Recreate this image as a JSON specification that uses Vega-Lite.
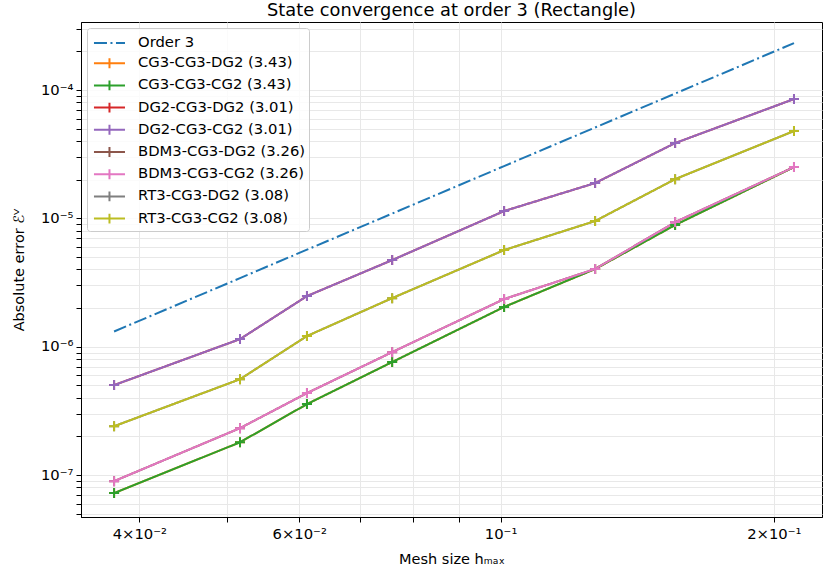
{
  "$schema": "https://vega.github.io/schema/vega-lite/v6.json",
  "width": 741,
  "height": 495,
  "autosize": "none",
  "padding": {"left": 81, "top": 22, "right": 2, "bottom": 60},
  "title": {"text": "State convergence at order 3 (Rectangle)", "offset": 2, "fontSize": 17.8, "fontWeight": "normal", "color": "#000", "font": "DejaVu Sans"},
  "data": {"values": [
    {"s": "Order 3", "h": 0.03752, "e": 1.314e-6},
    {"s": "Order 3", "h": 0.05164, "e": 3.425e-6},
    {"s": "Order 3", "h": 0.06120, "e": 5.701e-6},
    {"s": "Order 3", "h": 0.07596, "e": 1.090e-5},
    {"s": "Order 3", "h": 0.1009, "e": 2.555e-5},
    {"s": "Order 3", "h": 0.1271, "e": 5.106e-5},
    {"s": "Order 3", "h": 0.1557, "e": 9.388e-5},
    {"s": "Order 3", "h": 0.2105, "e": 2.320e-4},
    {"s": "CG3-CG3-DG2 (3.43)", "h": 0.03752, "e": 7.23e-8},
    {"s": "CG3-CG3-DG2 (3.43)", "h": 0.05164, "e": 1.80e-7},
    {"s": "CG3-CG3-DG2 (3.43)", "h": 0.06120, "e": 3.57e-7},
    {"s": "CG3-CG3-DG2 (3.43)", "h": 0.07596, "e": 7.59e-7},
    {"s": "CG3-CG3-DG2 (3.43)", "h": 0.1009, "e": 2.04e-6},
    {"s": "CG3-CG3-DG2 (3.43)", "h": 0.1271, "e": 4.03e-6},
    {"s": "CG3-CG3-DG2 (3.43)", "h": 0.1557, "e": 8.87e-6},
    {"s": "CG3-CG3-DG2 (3.43)", "h": 0.2105, "e": 2.51e-5},
    {"s": "CG3-CG3-CG2 (3.43)", "h": 0.03752, "e": 7.23e-8},
    {"s": "CG3-CG3-CG2 (3.43)", "h": 0.05164, "e": 1.80e-7},
    {"s": "CG3-CG3-CG2 (3.43)", "h": 0.06120, "e": 3.57e-7},
    {"s": "CG3-CG3-CG2 (3.43)", "h": 0.07596, "e": 7.59e-7},
    {"s": "CG3-CG3-CG2 (3.43)", "h": 0.1009, "e": 2.04e-6},
    {"s": "CG3-CG3-CG2 (3.43)", "h": 0.1271, "e": 4.03e-6},
    {"s": "CG3-CG3-CG2 (3.43)", "h": 0.1557, "e": 8.87e-6},
    {"s": "CG3-CG3-CG2 (3.43)", "h": 0.2105, "e": 2.51e-5},
    {"s": "DG2-CG3-DG2 (3.01)", "h": 0.03752, "e": 5.02e-7},
    {"s": "DG2-CG3-DG2 (3.01)", "h": 0.05164, "e": 1.146e-6},
    {"s": "DG2-CG3-DG2 (3.01)", "h": 0.06120, "e": 2.48e-6},
    {"s": "DG2-CG3-DG2 (3.01)", "h": 0.07596, "e": 4.73e-6},
    {"s": "DG2-CG3-DG2 (3.01)", "h": 0.1009, "e": 1.140e-5},
    {"s": "DG2-CG3-DG2 (3.01)", "h": 0.1271, "e": 1.884e-5},
    {"s": "DG2-CG3-DG2 (3.01)", "h": 0.1557, "e": 3.86e-5},
    {"s": "DG2-CG3-DG2 (3.01)", "h": 0.2105, "e": 8.51e-5},
    {"s": "DG2-CG3-CG2 (3.01)", "h": 0.03752, "e": 5.02e-7},
    {"s": "DG2-CG3-CG2 (3.01)", "h": 0.05164, "e": 1.146e-6},
    {"s": "DG2-CG3-CG2 (3.01)", "h": 0.06120, "e": 2.48e-6},
    {"s": "DG2-CG3-CG2 (3.01)", "h": 0.07596, "e": 4.73e-6},
    {"s": "DG2-CG3-CG2 (3.01)", "h": 0.1009, "e": 1.140e-5},
    {"s": "DG2-CG3-CG2 (3.01)", "h": 0.1271, "e": 1.884e-5},
    {"s": "DG2-CG3-CG2 (3.01)", "h": 0.1557, "e": 3.86e-5},
    {"s": "DG2-CG3-CG2 (3.01)", "h": 0.2105, "e": 8.51e-5},
    {"s": "BDM3-CG3-DG2 (3.26)", "h": 0.03752, "e": 8.96e-8},
    {"s": "BDM3-CG3-DG2 (3.26)", "h": 0.05164, "e": 2.32e-7},
    {"s": "BDM3-CG3-DG2 (3.26)", "h": 0.06120, "e": 4.35e-7},
    {"s": "BDM3-CG3-DG2 (3.26)", "h": 0.07596, "e": 9.07e-7},
    {"s": "BDM3-CG3-DG2 (3.26)", "h": 0.1009, "e": 2.35e-6},
    {"s": "BDM3-CG3-DG2 (3.26)", "h": 0.1271, "e": 4.03e-6},
    {"s": "BDM3-CG3-DG2 (3.26)", "h": 0.1557, "e": 9.35e-6},
    {"s": "BDM3-CG3-DG2 (3.26)", "h": 0.2105, "e": 2.51e-5},
    {"s": "BDM3-CG3-CG2 (3.26)", "h": 0.03752, "e": 8.96e-8},
    {"s": "BDM3-CG3-CG2 (3.26)", "h": 0.05164, "e": 2.32e-7},
    {"s": "BDM3-CG3-CG2 (3.26)", "h": 0.06120, "e": 4.35e-7},
    {"s": "BDM3-CG3-CG2 (3.26)", "h": 0.07596, "e": 9.07e-7},
    {"s": "BDM3-CG3-CG2 (3.26)", "h": 0.1009, "e": 2.35e-6},
    {"s": "BDM3-CG3-CG2 (3.26)", "h": 0.1271, "e": 4.03e-6},
    {"s": "BDM3-CG3-CG2 (3.26)", "h": 0.1557, "e": 9.35e-6},
    {"s": "BDM3-CG3-CG2 (3.26)", "h": 0.2105, "e": 2.51e-5},
    {"s": "RT3-CG3-DG2 (3.08)", "h": 0.03752, "e": 2.40e-7},
    {"s": "RT3-CG3-DG2 (3.08)", "h": 0.05164, "e": 5.58e-7},
    {"s": "RT3-CG3-DG2 (3.08)", "h": 0.06120, "e": 1.211e-6},
    {"s": "RT3-CG3-DG2 (3.08)", "h": 0.07596, "e": 2.39e-6},
    {"s": "RT3-CG3-DG2 (3.08)", "h": 0.1009, "e": 5.66e-6},
    {"s": "RT3-CG3-DG2 (3.08)", "h": 0.1271, "e": 9.53e-6},
    {"s": "RT3-CG3-DG2 (3.08)", "h": 0.1557, "e": 2.02e-5},
    {"s": "RT3-CG3-DG2 (3.08)", "h": 0.2105, "e": 4.79e-5},
    {"s": "RT3-CG3-CG2 (3.08)", "h": 0.03752, "e": 2.40e-7},
    {"s": "RT3-CG3-CG2 (3.08)", "h": 0.05164, "e": 5.58e-7},
    {"s": "RT3-CG3-CG2 (3.08)", "h": 0.06120, "e": 1.211e-6},
    {"s": "RT3-CG3-CG2 (3.08)", "h": 0.07596, "e": 2.39e-6},
    {"s": "RT3-CG3-CG2 (3.08)", "h": 0.1009, "e": 5.66e-6},
    {"s": "RT3-CG3-CG2 (3.08)", "h": 0.1271, "e": 9.53e-6},
    {"s": "RT3-CG3-CG2 (3.08)", "h": 0.1557, "e": 2.02e-5},
    {"s": "RT3-CG3-CG2 (3.08)", "h": 0.2105, "e": 4.79e-5}
  ]},
  "encoding": {
    "x": {"field": "h", "type": "quantitative",
      "scale": {"type": "log", "domain": [0.0345, 0.226], "nice": false, "zero": false},
      "axis": {"title": "Mesh size hₘₐₓ", "values": [0.04, 0.05, 0.06, 0.07, 0.08, 0.09, 0.1, 0.2],
        "labelExpr": "datum.value == 0.04 ? '4×10⁻²' : datum.value == 0.06 ? '6×10⁻²' : datum.value == 0.1 ? '10⁻¹' : datum.value == 0.2 ? '2×10⁻¹' : ''",
        "titlePadding": 12, "labelPadding": 4,
        "encode": {"ticks": {"update": {"y2": {"signal": "datum.value == 0.1 ? 5 : 3"}}}}}},
    "y": {"field": "e", "type": "quantitative",
      "scale": {"type": "log", "domain": [4.71e-8, 3.39e-4], "nice": false, "zero": false},
      "axis": {"title": "Absolute error ℰⱽ",
        "values": [5e-8, 6e-8, 7e-8, 8e-8, 9e-8, 1e-7, 2e-7, 3e-7, 4e-7, 5e-7, 6e-7, 7e-7, 8e-7, 9e-7, 1e-6, 2e-6, 3e-6, 4e-6, 5e-6, 6e-6, 7e-6, 8e-6, 9e-6, 1e-5, 2e-5, 3e-5, 4e-5, 5e-5, 6e-5, 7e-5, 8e-5, 9e-5, 1e-4, 2e-4, 3e-4],
        "labelExpr": "datum.value == 1e-4 ? '10⁻⁴' : datum.value == 1e-5 ? '10⁻⁵' : datum.value == 1e-6 ? '10⁻⁶' : datum.value == 1e-7 ? '10⁻⁷' : ''",
        "titlePadding": 14, "labelPadding": 3,
        "encode": {"ticks": {"update": {"x2": {"signal": "(datum.value == 1e-4 || datum.value == 1e-5 || datum.value == 1e-6 || datum.value == 1e-7) ? -5 : -3"}}}}}},
    "color": {"field": "s", "type": "nominal",
      "scale": {"domain": ["Order 3", "CG3-CG3-DG2 (3.43)", "CG3-CG3-CG2 (3.43)", "DG2-CG3-DG2 (3.01)", "DG2-CG3-CG2 (3.01)", "BDM3-CG3-DG2 (3.26)", "BDM3-CG3-CG2 (3.26)", "RT3-CG3-DG2 (3.08)", "RT3-CG3-CG2 (3.08)"],
        "range": ["#1f77b4", "#ff7f0e", "#2ca02c", "#d62728", "#9467bd", "#8c564b", "#e377c2", "#7f7f7f", "#bcbd22"]},
      "legend": {"title": null, "orient": "top-left", "offset": 6, "padding": 3,
        "symbolType": "M-0.73,0L2.09,0", "symbolSize": 484, "symbolStrokeWidth": 2,
        "labelFontSize": 14.8, "labelLimit": 300, "labelOffset": 24, "rowPadding": 1.2,
        "fillColor": "rgba(255,255,255,0.8)", "strokeColor": "#cccccc", "cornerRadius": 3, "labelColor": "#000",
        "encode": {"symbols": {"update": {"shape": {"signal": "datum.value == 'Order 3' ? 'M-0.73,0L2.09,0' : 'M-0.73,0L2.09,0M0.68,-0.45L0.68,0.45'"}}}}}}
  },
  "layer": [
    {"transform": [{"filter": {"field": "s", "oneOf": ["CG3-CG3-DG2 (3.43)", "DG2-CG3-DG2 (3.01)", "BDM3-CG3-DG2 (3.26)", "RT3-CG3-DG2 (3.08)"]}}],
     "mark": {"type": "line", "strokeWidth": 2, "clip": true},
     "encoding": {"strokeDash": {"field": "s", "type": "nominal",
       "scale": {"domain": ["Order 3", "CG3-CG3-DG2 (3.43)", "CG3-CG3-CG2 (3.43)", "DG2-CG3-DG2 (3.01)", "DG2-CG3-CG2 (3.01)", "BDM3-CG3-DG2 (3.26)", "BDM3-CG3-CG2 (3.26)", "RT3-CG3-DG2 (3.08)", "RT3-CG3-CG2 (3.08)"],
         "range": [[13, 3.5, 2, 3.5], [1, 0], [1, 0], [1, 0], [1, 0], [1, 0], [1, 0], [1, 0], [1, 0]]}}}},
    {"transform": [{"filter": {"field": "s", "oneOf": ["CG3-CG3-DG2 (3.43)", "DG2-CG3-DG2 (3.01)", "BDM3-CG3-DG2 (3.26)", "RT3-CG3-DG2 (3.08)"]}}],
     "mark": {"type": "point", "shape": "M-1,0L1,0M0,-1L0,1", "filled": false, "size": 100, "strokeWidth": 2, "opacity": 1, "clip": true}},
    {"transform": [{"filter": {"field": "s", "oneOf": ["Order 3", "CG3-CG3-CG2 (3.43)", "DG2-CG3-CG2 (3.01)", "BDM3-CG3-CG2 (3.26)", "RT3-CG3-CG2 (3.08)"]}}],
     "mark": {"type": "line", "strokeWidth": 2, "clip": true},
     "encoding": {"strokeDash": {"field": "s", "type": "nominal"}}},
    {"transform": [{"filter": {"field": "s", "oneOf": ["CG3-CG3-CG2 (3.43)", "DG2-CG3-CG2 (3.01)", "BDM3-CG3-CG2 (3.26)", "RT3-CG3-CG2 (3.08)"]}}],
     "mark": {"type": "point", "shape": "M-1,0L1,0M0,-1L0,1", "filled": false, "size": 100, "strokeWidth": 2, "opacity": 1, "clip": true}}
  ],
  "config": {
    "font": "DejaVu Sans",
    "view": {"stroke": "#000", "strokeWidth": 1},
    "axis": {"domainColor": "#000", "tickColor": "#000", "labelColor": "#000", "titleColor": "#000", "labelFontSize": 14.8, "titleFontSize": 14.5, "titleFontWeight": "normal", "gridColor": "#e8e8e8", "gridWidth": 1, "tickSize": 5, "labelFont": "DejaVu Sans", "titleFont": "DejaVu Sans"},
    "legend": {"labelFont": "DejaVu Sans"}
  }
}
